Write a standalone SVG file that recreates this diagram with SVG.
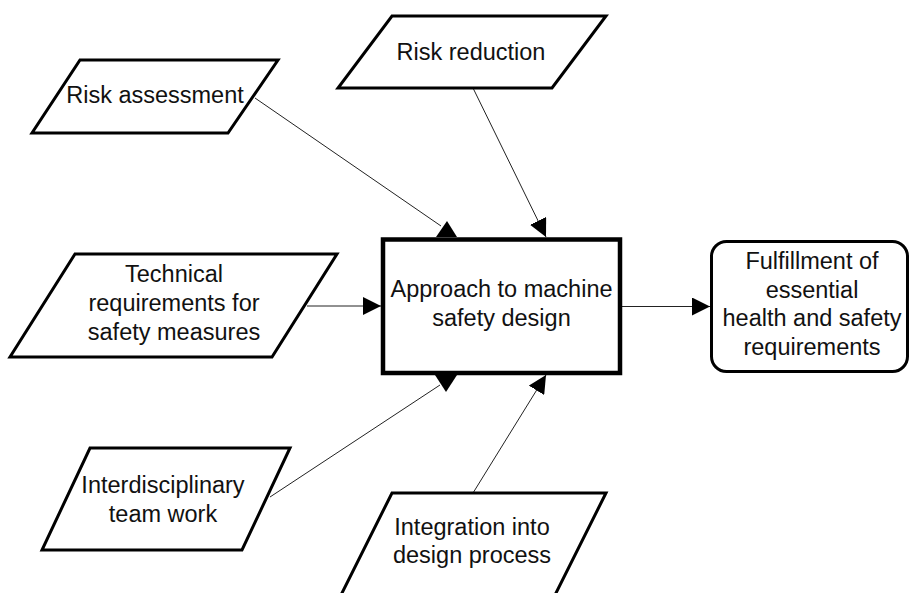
<svg xmlns="http://www.w3.org/2000/svg" width="910" height="593" viewBox="0 0 910 593">
  <style>
    .io { fill: #fff; stroke: #000; stroke-width: 3; stroke-linejoin: miter; }
    .main { fill: #fff; stroke: #000; stroke-width: 4.5; }
    .out { fill: #fff; stroke: #000; stroke-width: 3; }
    .lbl { font-family: "Liberation Sans", Arial, sans-serif; font-size: 23.5px; fill: #111; text-anchor: middle; }
    .wire { stroke: #222; stroke-width: 1; fill: none; }
    .head { fill: #000; stroke: none; }
  </style>
  <defs>
    <marker id="arrow" markerUnits="userSpaceOnUse" markerWidth="18" markerHeight="18" refX="18" refY="9" orient="auto">
      <path d="M0,0 L18,9 L0,18 Z" fill="#000"/>
    </marker>
  </defs>
  <rect width="910" height="593" fill="#fff"/>

  <g id="connectors">
    <line class="wire" x1="255" y1="98" x2="441" y2="226"/>
    <polygon class="head" points="447,221 436,237 457,237"/>
    <line class="wire" x1="473" y1="88" x2="546" y2="237" marker-end="url(#arrow)"/>
    <line class="wire" x1="307" y1="306" x2="381" y2="306" marker-end="url(#arrow)"/>
    <line class="wire" x1="270" y1="497" x2="440" y2="385"/>
    <polygon class="head" points="435,375 457,375 446,392"/>
    <line class="wire" x1="473" y1="493" x2="546" y2="375" marker-end="url(#arrow)"/>
    <line class="wire" x1="622" y1="306.5" x2="710" y2="306.5" marker-end="url(#arrow)"/>
  </g>

  <g id="risk-assessment">
    <polygon class="io" points="80,60 278,60 228,133 32,133"/>
    <text class="lbl" x="155" y="103">Risk assessment</text>
  </g>

  <g id="risk-reduction">
    <polygon class="io" points="392,16 606,16 552,88 338,88"/>
    <text class="lbl" x="471" y="59.5">Risk reduction</text>
  </g>

  <g id="technical-requirements">
    <polygon class="io" points="75,254 337,254 272,357 10,357"/>
    <text class="lbl" x="174" y="282">Technical</text>
    <text class="lbl" x="174" y="311">requirements for</text>
    <text class="lbl" x="174" y="340">safety measures</text>
  </g>

  <g id="interdisciplinary-team">
    <polygon class="io" points="90,448 290,448 242,550 42,550"/>
    <text class="lbl" x="163" y="493">Interdisciplinary</text>
    <text class="lbl" x="163" y="521.5">team work</text>
  </g>

  <g id="design-integration">
    <polygon class="io" points="392,493 606,493 551,603 337,603"/>
    <text class="lbl" x="472" y="534.5">Integration into</text>
    <text class="lbl" x="472" y="563">design process</text>
  </g>

  <g id="safety-design-approach">
    <rect class="main" x="383" y="239.5" width="237" height="133.5"/>
    <text class="lbl" x="501.5" y="297">Approach to machine</text>
    <text class="lbl" x="501.5" y="326">safety design</text>
  </g>

  <g id="ehsr-fulfillment">
    <rect class="out" x="711.5" y="241.5" width="196" height="130" rx="15" ry="15"/>
    <text class="lbl" x="812" y="269">Fulfillment of</text>
    <text class="lbl" x="812" y="297.5">essential</text>
    <text class="lbl" x="812" y="326">health and safety</text>
    <text class="lbl" x="812" y="354.5">requirements</text>
  </g>
</svg>
